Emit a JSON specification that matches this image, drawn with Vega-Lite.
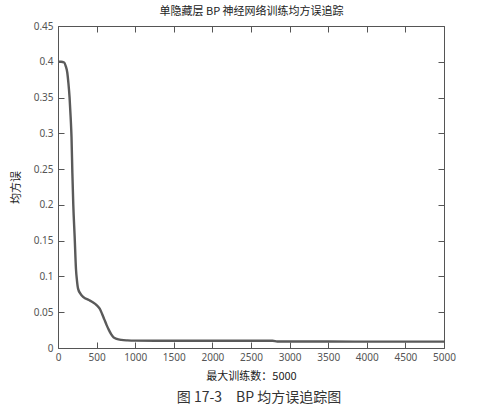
{
  "$schema": "https://vega.github.io/schema/vega-lite/v6.json",
  "autosize": {"type": "none"},
  "padding": {"left": 58, "top": 26, "right": 41, "bottom": 68},
  "width": 386,
  "height": 322,
  "background": "white",
  "title": {
    "text": "图 17-3　BP 均方误追踪图",
    "orient": "bottom",
    "anchor": "middle",
    "offset": 10,
    "dx": 8,
    "font": "Noto Sans CJK SC",
    "fontSize": 14,
    "fontWeight": "normal",
    "color": "#333333"
  },
  "config": {
    "view": {"stroke": null},
    "axis": {
      "grid": false,
      "domainColor": "#555555",
      "tickColor": "#555555",
      "tickSize": -6,
      "labelFont": "Noto Sans",
      "labelFontSize": 10,
      "labelColor": "#555555",
      "titleFont": "Noto Sans CJK SC",
      "titleFontSize": 11,
      "titleFontWeight": "normal",
      "titleColor": "#222222"
    }
  },
  "data": {
    "values": [
      {"iter": 0, "mse": 0.4},
      {"iter": 40, "mse": 0.4},
      {"iter": 80, "mse": 0.399},
      {"iter": 100, "mse": 0.394},
      {"iter": 120, "mse": 0.385},
      {"iter": 135, "mse": 0.37},
      {"iter": 150, "mse": 0.35},
      {"iter": 165, "mse": 0.32},
      {"iter": 175, "mse": 0.295},
      {"iter": 186, "mse": 0.245},
      {"iter": 198, "mse": 0.2},
      {"iter": 216, "mse": 0.155},
      {"iter": 233, "mse": 0.11},
      {"iter": 245, "mse": 0.095},
      {"iter": 260, "mse": 0.083},
      {"iter": 290, "mse": 0.076},
      {"iter": 330, "mse": 0.071},
      {"iter": 400, "mse": 0.067},
      {"iter": 450, "mse": 0.064},
      {"iter": 500, "mse": 0.06},
      {"iter": 540, "mse": 0.055},
      {"iter": 570, "mse": 0.048},
      {"iter": 600, "mse": 0.04},
      {"iter": 630, "mse": 0.032},
      {"iter": 660, "mse": 0.025},
      {"iter": 690, "mse": 0.019},
      {"iter": 720, "mse": 0.015},
      {"iter": 760, "mse": 0.0128},
      {"iter": 820, "mse": 0.0113},
      {"iter": 900, "mse": 0.0106},
      {"iter": 1000, "mse": 0.0103},
      {"iter": 1500, "mse": 0.0102},
      {"iter": 2000, "mse": 0.0102},
      {"iter": 2500, "mse": 0.0101},
      {"iter": 2780, "mse": 0.0101},
      {"iter": 2840, "mse": 0.009},
      {"iter": 3500, "mse": 0.009},
      {"iter": 4200, "mse": 0.0089},
      {"iter": 5000, "mse": 0.0089}
    ]
  },
  "layer": [
    {
      "mark": {"type": "line", "color": "#5a5a5a", "strokeWidth": 2.4, "interpolate": "monotone"},
      "encoding": {
        "x": {
          "field": "iter",
          "type": "quantitative",
          "scale": {"domain": [0, 5000], "nice": false, "zero": false},
          "axis": {
            "orient": "bottom",
            "title": "最大训练数：5000",
            "values": [0, 500, 1000, 1500, 2000, 2500, 3000, 3500, 4000, 4500, 5000],
            "format": "d",
            "labelPadding": 10,
            "titlePadding": 8,
            "labelFlush": false,
            "labelOverlap": false
          }
        },
        "y": {
          "field": "mse",
          "type": "quantitative",
          "scale": {"domain": [0, 0.45], "nice": false},
          "axis": {
            "orient": "left",
            "title": "均方误",
            "values": [0, 0.05, 0.1, 0.15, 0.2, 0.25, 0.3, 0.35, 0.4, 0.45],
            "format": "~g",
            "labelPadding": 11,
            "titlePadding": 12,
            "labelFlush": false,
            "labelOverlap": false
          }
        }
      }
    },
    {
      "mark": {"type": "line", "opacity": 0},
      "encoding": {
        "x": {
          "field": "iter",
          "type": "quantitative",
          "scale": {"domain": [0, 5000], "nice": false, "zero": false},
          "axis": {
            "orient": "top",
            "title": "单隐藏层 BP 神经网络训练均方误追踪",
            "values": [0, 500, 1000, 1500, 2000, 2500, 3000, 3500, 4000, 4500, 5000],
            "labels": false,
            "titlePadding": 9
          }
        },
        "y": {
          "field": "mse",
          "type": "quantitative",
          "scale": {"domain": [0, 0.45], "nice": false},
          "axis": {
            "orient": "right",
            "title": null,
            "values": [0, 0.05, 0.1, 0.15, 0.2, 0.25, 0.3, 0.35, 0.4, 0.45],
            "labels": false
          }
        }
      }
    }
  ],
  "resolve": {"axis": {"x": "independent", "y": "independent"}}
}
